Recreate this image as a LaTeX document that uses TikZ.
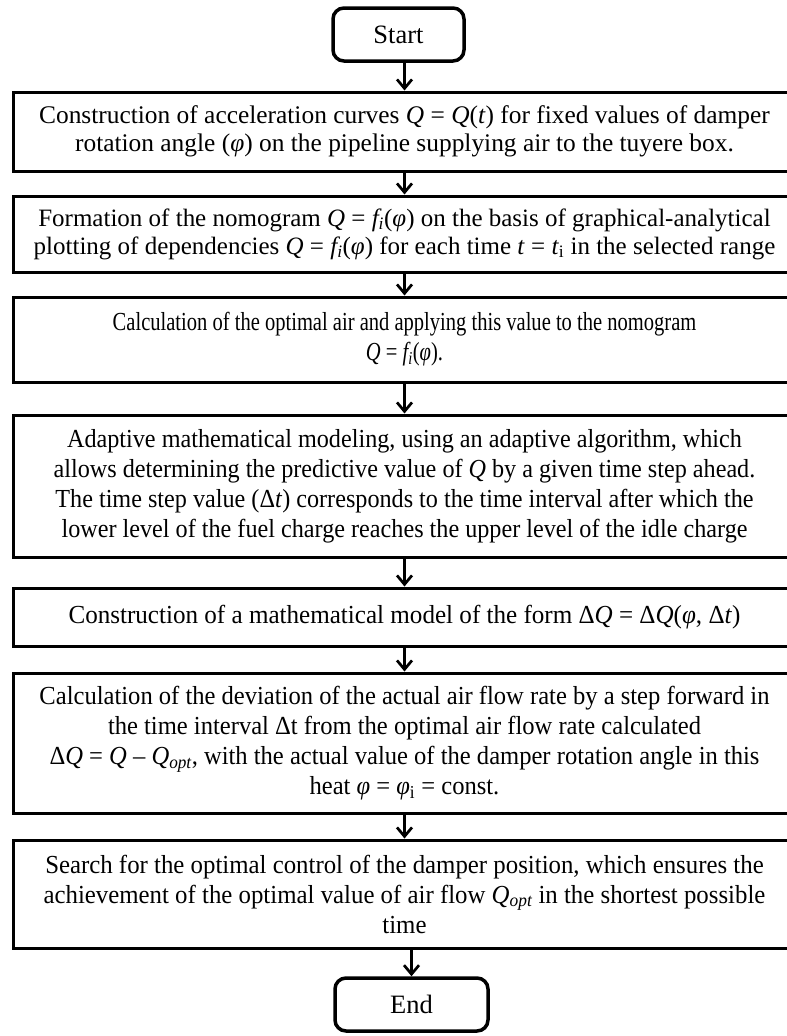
\documentclass[tikz,border=0pt]{standalone}
\usepackage{fontspec}
\setmainfont{Liberation Serif}
\newfontfamily\fsA{Liberation Serif}
\newfontfamily\fsC[FakeStretch=0.79]{Liberation Serif}
\newfontfamily\fsD[FakeStretch=0.93]{Liberation Serif}
\newfontfamily\fsE[FakeStretch=0.965]{Liberation Serif}
\newfontfamily\fsF[FakeStretch=0.945]{Liberation Serif}
\newfontfamily\fsG[FakeStretch=0.955]{Liberation Serif}
\usetikzlibrary{arrows.meta}
\begin{document}
\begin{tikzpicture}[x=1pt,y=-1pt,
  box/.style={draw, line width=3pt, minimum width=783pt, inner sep=0pt, align=center},
  term/.style={draw, line width=3.5pt, rounded corners=11pt, minimum height=53pt, inner sep=0pt, font=\fsA\fontsize{26.5}{30}\selectfont},
  small/.style={font=\fsA\fontsize{25.4}{28}\selectfont},
  smaller/.style={font=\fsA\fontsize{25}{28}\selectfont},
  arr/.style={line width=2.3pt, -{Straight Barb[length=9pt,width=15pt,line width=2.7pt]}}]
\clip (0,0) rectangle (787,1036);
\fill[white] (0,0) rectangle (787,1036);
\node[term, minimum width=131pt] (start) at (398.5,34.5) {Start};
\node[box, small, minimum height=79pt] (b1) at (404.5,131.5) {Construction of acceleration curves \textit{Q} = \textit{Q}(\textit{t}) for fixed values of damper\\rotation angle (\textit{φ}) on the pipeline supplying air to the tuyere box.};
\node[box, smaller, minimum height=76pt] (b2) at (404.5,234) {Formation of the nomogram \textit{Q} = \textit{f\textsubscript{i}}(\textit{φ}) on the basis of graphical-analytical\\plotting of dependencies \textit{Q} = \textit{f\textsubscript{i}}(\textit{φ}) for each time \textit{t} = \textit{t}\textsubscript{i} in the selected range};
\node[box, font=\fsC\fontsize{26}{30}\selectfont, minimum height=85pt] (b3) at (404.5,339.5) {Calculation of the optimal air and applying this value to the nomogram\\\textit{Q} = \textit{f\textsubscript{i}}(\textit{φ}).};
\node[box, font=\fsD\fontsize{26}{30}\selectfont, minimum height=142pt] (b4) at (404.5,486) {Adaptive mathematical modeling, using an adaptive algorithm, which\\allows determining the predictive value of \textit{Q} by a given time step ahead.\\The time step value (Δ\textit{t}) corresponds to the time interval after which the\\lower level of the fuel charge reaches the upper level of the idle charge};
\node[box, font=\fsE\fontsize{26}{30}\selectfont, minimum height=58pt] (b5) at (404.5,617) {Construction of a mathematical model of the form Δ\textit{Q} = Δ\textit{Q}(\textit{φ}, Δ\textit{t})};
\node[box, font=\fsF\fontsize{26}{30}\selectfont, minimum height=140pt] (b6) at (404.5,743) {Calculation of the deviation of the actual air flow rate by a step forward in\\the time interval Δt from the optimal air flow rate calculated\\Δ\textit{Q} = \textit{Q} – \textit{Q\textsubscript{opt}}, with the actual value of the damper rotation angle in this\\heat \textit{φ} = \textit{φ}\textsubscript{i} = const.};
\node[box, font=\fsG\fontsize{26}{30}\selectfont, minimum height=108pt] (b7) at (404.5,894) {Search for the optimal control of the damper position, which ensures the\\achievement of the optimal value of air flow \textit{Q\textsubscript{opt}} in the shortest possible\\time};
\node[term, minimum width=153pt] (end) at (411.5,1004.5) {End};
\draw[arr] (start.south -| b1.north) -- (b1.north);
\draw[arr] (b1) -- (b2);
\draw[arr] (b2) -- (b3);
\draw[arr] (b3) -- (b4);
\draw[arr] (b4) -- (b5);
\draw[arr] (b5) -- (b6);
\draw[arr] (b6) -- (b7);
\draw[arr] (b7.south -| end.north) -- (end.north);
\end{tikzpicture}
\end{document}
